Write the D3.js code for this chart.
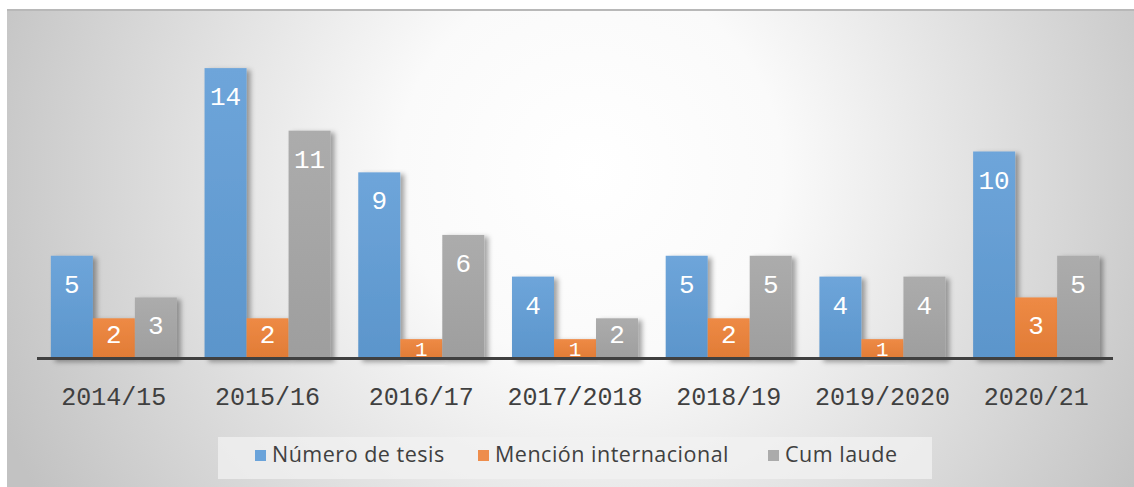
<!DOCTYPE html>
<html>
<head>
<meta charset="utf-8">
<title>Tesis doctorales</title>
<script src="https://d3js.org/d3.v7.min.js"></script>
<style>
  body { margin: 0; background: #fff; }
  svg { display: block; }
</style>
</head>
<body>
<svg id="chart" width="1134" height="487"></svg>
<script>
var cursos = ["2014/15", "2015/16", "2016/17", "2017/2018", "2018/19", "2019/2020", "2020/21"];
var series = ["Número de tesis", "Mención internacional", "Cum laude"];
var numeroTesis = [5, 14, 9, 4, 5, 4, 10];
var mencionInternacional = [2, 2, 1, 1, 2, 1, 3];
var cumLaude = [3, 11, 6, 2, 5, 4, 5];
var valores = [numeroTesis, mencionInternacional, cumLaude];
var colores = [["#6ea5da", "#5b95cb"], ["#ee8a45", "#e07b35"], ["#acacac", "#9e9e9e"]];
var legendColors = ["#6aa3da", "#ee8d4c", "#ababab"];

var svg = d3.select("#chart");
var defs = svg.append("defs");

// background
var bg = defs.append("radialGradient").attr("id", "bg")
  .attr("gradientUnits", "userSpaceOnUse")
  .attr("cx", 590).attr("cy", 170).attr("r", 640);
bg.append("stop").attr("offset", 0).attr("stop-color", "#ffffff");
bg.append("stop").attr("offset", 0.3).attr("stop-color", "#fafafa");
bg.append("stop").attr("offset", 1).attr("stop-color", "#c2c2c2");

colores.forEach(function(c, i) {
  var g = defs.append("linearGradient").attr("id", "bar" + i)
    .attr("x1", 0).attr("y1", 0).attr("x2", 0).attr("y2", 1);
  g.append("stop").attr("offset", 0).attr("stop-color", c[0]);
  g.append("stop").attr("offset", 1).attr("stop-color", c[1]);
});

var sh = defs.append("filter").attr("id", "shadow")
  .attr("x", "-20%").attr("y", "-20%").attr("width", "150%").attr("height", "140%");
sh.append("feDropShadow").attr("dx", 4).attr("dy", 2).attr("stdDeviation", 2.5)
  .attr("flood-color", "#000").attr("flood-opacity", 0.35);

svg.append("rect").attr("x", 7).attr("y", 9).attr("width", 1127).attr("height", 478)
  .attr("fill", "url(#bg)");
svg.append("line").attr("x1", 7).attr("x2", 1134).attr("y1", 10).attr("y2", 10)
  .attr("stroke", "#b8b8b8").attr("stroke-width", 2);

var x = d3.scaleBand().domain(cursos).range([37, 1113]).paddingInner(0.18).paddingOuter(0.09);
var xs = d3.scaleBand().domain(d3.range(series.length)).range([0, x.bandwidth()]);
var y = d3.scaleLinear().domain([0, 14]).range([360, 68.1]);

var groups = svg.append("g").selectAll("g")
  .data(cursos)
  .enter().append("g")
  .attr("transform", function(d) { return "translate(" + x(d) + ",0)"; });

groups.each(function(curso, ci) {
  var g = d3.select(this);
  var rows = valores.map(function(v, si) { return { s: si, v: v[ci] }; });
  g.selectAll("rect")
    .data(rows)
    .enter().append("rect")
    .attr("x", function(d) { return xs(d.s); })
    .attr("y", function(d) { return y(d.v); })
    .attr("width", xs.bandwidth())
    .attr("height", function(d) { return y(0) - y(d.v); })
    .attr("fill", function(d) { return "url(#bar" + d.s + ")"; })
    .attr("filter", "url(#shadow)");
  g.selectAll("text")
    .data(rows)
    .enter().append("text")
    .attr("x", function(d) { return xs(d.s) + xs.bandwidth() / 2; })
    .attr("y", function(d) {
      var h = y(0) - y(d.v);
      if (h < 25) return 356;
      return Math.min(y(d.v) + 37, 343);
    })
    .attr("text-anchor", "middle")
    .attr("fill", "#fff")
    .style("font-family", "Liberation Mono")
    .style("font-size", function(d) { return (y(0) - y(d.v)) < 25 ? "21px" : "26px"; })
    .text(function(d) { return d.v; });
});

// axis
var axis = svg.append("g").attr("transform", "translate(0,358.5)")
  .call(d3.axisBottom(x).tickSize(0).tickPadding(0));
axis.select(".domain").attr("stroke", "#404040").attr("stroke-width", 3)
  .attr("d", "M37,0H1113");
axis.selectAll("text")
  .attr("y", 46.5).attr("dy", 0)
  .attr("fill", "#404040")
  .style("font-family", "Liberation Mono")
  .style("font-size", "25px");

// legend
svg.append("rect").attr("x", 218).attr("y", 437).attr("width", 714).attr("height", 42)
  .attr("fill", "#f2f2f2").attr("fill-opacity", 0.75);
var legendX = [255, 478, 768];
var leg = svg.append("g").selectAll("g")
  .data(series)
  .enter().append("g")
  .attr("transform", function(d, i) { return "translate(" + legendX[i] + ",0)"; });
leg.append("rect").attr("x", 0).attr("y", 450).attr("width", 11).attr("height", 11)
  .attr("fill", function(d, i) { return legendColors[i]; });
leg.append("text").attr("x", 17).attr("y", 462)
  .attr("fill", "#404040")
  .style("font-family", "Open Sans")
  .style("font-size", "21.5px")
  .style("letter-spacing", "0.5px")
  .text(function(d) { return d; });
</script>
</body>
</html>
